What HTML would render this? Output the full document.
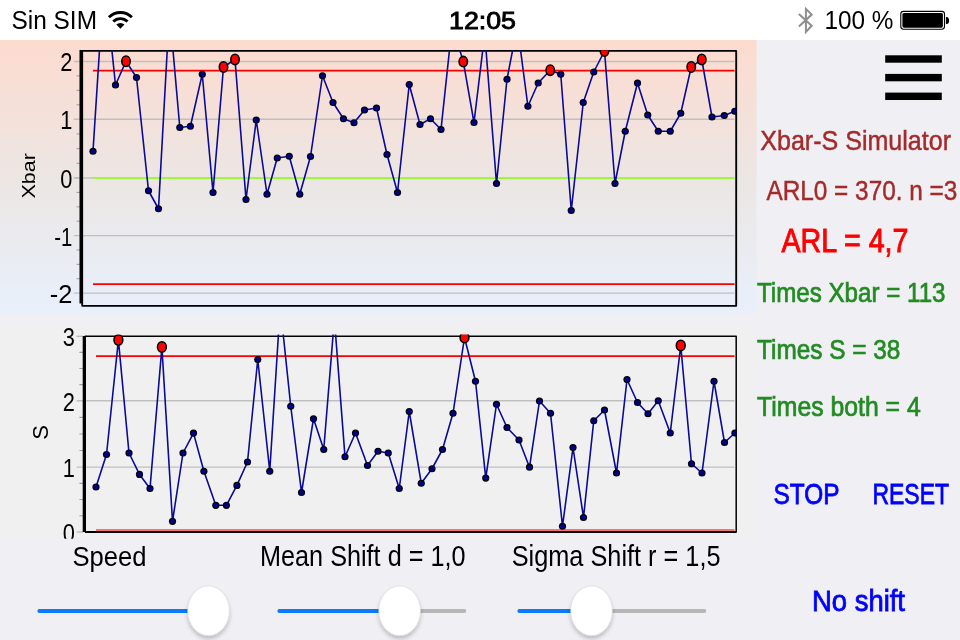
<!DOCTYPE html><html><head><meta charset="utf-8"><title>Xbar-S Simulator</title><style>
html,body{margin:0;padding:0;width:960px;height:640px;overflow:hidden;background:#efeff4;}
svg{position:absolute;left:0;top:0;display:block}
text{font-family:"Liberation Sans",Arial,sans-serif;}
</style></head><body>
<svg width="960" height="640" viewBox="0 0 960 640">
<defs>
<linearGradient id="tg" x1="0" y1="0" x2="0" y2="1"><stop offset="0" stop-color="#fddbcf"/><stop offset="0.5" stop-color="#ece6e3"/><stop offset="1" stop-color="#e8f0fc"/></linearGradient>
<linearGradient id="tgu" gradientUnits="userSpaceOnUse" x1="0" y1="40" x2="0" y2="313.75"><stop offset="0" stop-color="#fddbcf"/><stop offset="0.5" stop-color="#ece6e3"/><stop offset="1" stop-color="#e8f0fc"/></linearGradient>
<clipPath id="ctop"><rect x="82" y="50.3" width="654.5" height="255"/></clipPath>
<clipPath id="cs"><rect x="85" y="334.4" width="651.5" height="197"/></clipPath>
<clipPath id="csview"><rect x="0" y="327" width="757" height="211.75"/></clipPath>
<filter id="sh" x="-30%" y="-30%" width="160%" height="170%"><feGaussianBlur in="SourceAlpha" stdDeviation="2"/><feOffset dy="3"/><feComponentTransfer><feFuncA type="linear" slope="0.22"/></feComponentTransfer><feMerge><feMergeNode/><feMergeNode in="SourceGraphic"/></feMerge></filter>
</defs>
<rect x="0" y="0" width="960" height="40" fill="#ffffff"/>
<rect x="0" y="40" width="756.5" height="273.75" fill="url(#tg)"/>
<rect x="0" y="327" width="756.5" height="211.75" fill="#f0f0f0"/>
<path d="M108.94,17.24 A16.2,16.2 0 0 1 131.86,17.24" stroke="#000" stroke-width="2.9" fill="none"/>
<path d="M113.26,21.56 A10.1,10.1 0 0 1 127.54,21.56" stroke="#000" stroke-width="2.9" fill="none"/>
<path d="M120.4,28.7 L116.30,24.60 A5.8,5.8 0 0 1 124.50,24.60 Z" fill="#000"/>
<path d="M798.9,13.9 L811.7,25.8 L805.9,31.9 L805.9,8.8 L811.7,14.6 L798.9,26.4" stroke="#8e8e8e" stroke-width="2.0" fill="none" stroke-linejoin="miter"/>
<rect x="900.8" y="11.4" width="43.7" height="17.8" rx="2.6" fill="none" stroke="#000" stroke-width="1.1"/>
<rect x="902.4" y="12.9" width="40.5" height="14.8" rx="1.6" fill="#000"/>
<path d="M945.9,16.9 L946.5,16.9 A2.6,3.6 0 0 1 946.5,24.1 L945.9,24.1 Z" fill="#000"/>
<line x1="73.8" y1="61.5" x2="734.5" y2="61.5" stroke="#bfbfbf" stroke-width="1.45"/>
<line x1="73.8" y1="119.2" x2="734.5" y2="119.2" stroke="#bfbfbf" stroke-width="1.45"/>
<line x1="73.8" y1="178.0" x2="80" y2="178.0" stroke="#a8a8a8" stroke-width="1.2"/>
<line x1="83" y1="178.0" x2="93" y2="178.0" stroke="#bfbfbf" stroke-width="1.45"/>
<line x1="73.8" y1="235.6" x2="734.5" y2="235.6" stroke="#bfbfbf" stroke-width="1.45"/>
<line x1="73.8" y1="293.1" x2="734.5" y2="293.1" stroke="#bfbfbf" stroke-width="1.45"/>
<line x1="76.6" y1="75.92" x2="80" y2="75.92" stroke="#a0a0a0" stroke-width="1.1"/>
<line x1="76.6" y1="90.35" x2="80" y2="90.35" stroke="#a0a0a0" stroke-width="1.1"/>
<line x1="76.6" y1="104.78" x2="80" y2="104.78" stroke="#a0a0a0" stroke-width="1.1"/>
<line x1="76.6" y1="133.90" x2="80" y2="133.90" stroke="#a0a0a0" stroke-width="1.1"/>
<line x1="76.6" y1="148.60" x2="80" y2="148.60" stroke="#a0a0a0" stroke-width="1.1"/>
<line x1="76.6" y1="163.30" x2="80" y2="163.30" stroke="#a0a0a0" stroke-width="1.1"/>
<line x1="76.6" y1="192.40" x2="80" y2="192.40" stroke="#a0a0a0" stroke-width="1.1"/>
<line x1="76.6" y1="206.80" x2="80" y2="206.80" stroke="#a0a0a0" stroke-width="1.1"/>
<line x1="76.6" y1="221.20" x2="80" y2="221.20" stroke="#a0a0a0" stroke-width="1.1"/>
<line x1="76.6" y1="249.97" x2="80" y2="249.97" stroke="#a0a0a0" stroke-width="1.1"/>
<line x1="76.6" y1="264.35" x2="80" y2="264.35" stroke="#a0a0a0" stroke-width="1.1"/>
<line x1="76.6" y1="278.73" x2="80" y2="278.73" stroke="#a0a0a0" stroke-width="1.1"/>
<line x1="93" y1="70.7" x2="734.5" y2="70.7" stroke="#ff0000" stroke-width="1.8"/>
<line x1="93" y1="284.2" x2="734.5" y2="284.2" stroke="#ff0000" stroke-width="1.8"/>
<line x1="93" y1="178" x2="734.5" y2="178" stroke="#80ff00" stroke-width="1.7"/>
<rect x="82.2" y="50.9" width="654" height="254.9" fill="none" stroke="#000" stroke-width="1.85" stroke-linejoin="round"/>
<rect x="79.5" y="50" width="3.5" height="253.5" fill="#000"/>
<g clip-path="url(#ctop)">
<polyline points="93.00,151.25 104.22,-23.70 115.50,85.00 126.00,61.25 136.50,77.50 148.50,190.75 158.50,208.75 169.45,10.00 179.80,127.50 190.40,126.25 202.25,74.25 213.00,192.50 223.50,67.00 235.00,59.50 246.00,199.50 256.25,120.00 267.00,194.25 277.25,158.00 289.25,156.25 299.75,194.25 310.50,156.50 322.50,75.75 333.00,102.50 343.50,118.75 354.00,122.75 364.50,110.00 376.50,108.00 387.00,154.50 397.50,192.50 409.25,84.50 420.00,124.50 430.50,118.75 441.00,129.50 452.13,25.40 463.30,61.60 474.00,122.50 484.74,33.60 496.50,183.50 507.00,79.25 517.36,25.70 527.90,106.25 538.20,83.00 550.25,70.25 560.75,74.25 571.25,210.50 583.25,102.50 593.75,72.00 604.50,51.00 615.00,183.50 625.25,131.25 637.50,83.00 647.75,115.00 658.25,131.25 670.25,131.25 680.75,113.25 691.25,67.00 701.75,59.50 712.00,117.00 724.25,115.50 734.80,111.25" fill="none" stroke="#0a0a96" stroke-width="1.6" stroke-linejoin="round"/>
<circle cx="93.00" cy="151.25" r="3.6" fill="#000"/><path d="M93.00,148.25 L96.00,151.25 L93.00,154.25 L90.00,151.25 Z" fill="#00008c"/>
<circle cx="115.50" cy="85.00" r="3.6" fill="#000"/><path d="M115.50,82.00 L118.50,85.00 L115.50,88.00 L112.50,85.00 Z" fill="#00008c"/>
<ellipse cx="126.00" cy="61.25" rx="4.2" ry="5.2" fill="#ff0000" stroke="#000" stroke-width="1.6"/>
<circle cx="136.50" cy="77.50" r="3.6" fill="#000"/><path d="M136.50,74.50 L139.50,77.50 L136.50,80.50 L133.50,77.50 Z" fill="#00008c"/>
<circle cx="148.50" cy="190.75" r="3.6" fill="#000"/><path d="M148.50,187.75 L151.50,190.75 L148.50,193.75 L145.50,190.75 Z" fill="#00008c"/>
<circle cx="158.50" cy="208.75" r="3.6" fill="#000"/><path d="M158.50,205.75 L161.50,208.75 L158.50,211.75 L155.50,208.75 Z" fill="#00008c"/>
<circle cx="179.80" cy="127.50" r="3.6" fill="#000"/><path d="M179.80,124.50 L182.80,127.50 L179.80,130.50 L176.80,127.50 Z" fill="#00008c"/>
<circle cx="190.40" cy="126.25" r="3.6" fill="#000"/><path d="M190.40,123.25 L193.40,126.25 L190.40,129.25 L187.40,126.25 Z" fill="#00008c"/>
<circle cx="202.25" cy="74.25" r="3.6" fill="#000"/><path d="M202.25,71.25 L205.25,74.25 L202.25,77.25 L199.25,74.25 Z" fill="#00008c"/>
<circle cx="213.00" cy="192.50" r="3.6" fill="#000"/><path d="M213.00,189.50 L216.00,192.50 L213.00,195.50 L210.00,192.50 Z" fill="#00008c"/>
<ellipse cx="223.50" cy="67" rx="4.2" ry="5.2" fill="#ff0000" stroke="#000" stroke-width="1.6"/>
<ellipse cx="235.00" cy="59.5" rx="4.2" ry="5.2" fill="#ff0000" stroke="#000" stroke-width="1.6"/>
<circle cx="246.00" cy="199.50" r="3.6" fill="#000"/><path d="M246.00,196.50 L249.00,199.50 L246.00,202.50 L243.00,199.50 Z" fill="#00008c"/>
<circle cx="256.25" cy="120.00" r="3.6" fill="#000"/><path d="M256.25,117.00 L259.25,120.00 L256.25,123.00 L253.25,120.00 Z" fill="#00008c"/>
<circle cx="267.00" cy="194.25" r="3.6" fill="#000"/><path d="M267.00,191.25 L270.00,194.25 L267.00,197.25 L264.00,194.25 Z" fill="#00008c"/>
<circle cx="277.25" cy="158.00" r="3.6" fill="#000"/><path d="M277.25,155.00 L280.25,158.00 L277.25,161.00 L274.25,158.00 Z" fill="#00008c"/>
<circle cx="289.25" cy="156.25" r="3.6" fill="#000"/><path d="M289.25,153.25 L292.25,156.25 L289.25,159.25 L286.25,156.25 Z" fill="#00008c"/>
<circle cx="299.75" cy="194.25" r="3.6" fill="#000"/><path d="M299.75,191.25 L302.75,194.25 L299.75,197.25 L296.75,194.25 Z" fill="#00008c"/>
<circle cx="310.50" cy="156.50" r="3.6" fill="#000"/><path d="M310.50,153.50 L313.50,156.50 L310.50,159.50 L307.50,156.50 Z" fill="#00008c"/>
<circle cx="322.50" cy="75.75" r="3.6" fill="#000"/><path d="M322.50,72.75 L325.50,75.75 L322.50,78.75 L319.50,75.75 Z" fill="#00008c"/>
<circle cx="333.00" cy="102.50" r="3.6" fill="#000"/><path d="M333.00,99.50 L336.00,102.50 L333.00,105.50 L330.00,102.50 Z" fill="#00008c"/>
<circle cx="343.50" cy="118.75" r="3.6" fill="#000"/><path d="M343.50,115.75 L346.50,118.75 L343.50,121.75 L340.50,118.75 Z" fill="#00008c"/>
<circle cx="354.00" cy="122.75" r="3.6" fill="#000"/><path d="M354.00,119.75 L357.00,122.75 L354.00,125.75 L351.00,122.75 Z" fill="#00008c"/>
<circle cx="364.50" cy="110.00" r="3.6" fill="#000"/><path d="M364.50,107.00 L367.50,110.00 L364.50,113.00 L361.50,110.00 Z" fill="#00008c"/>
<circle cx="376.50" cy="108.00" r="3.6" fill="#000"/><path d="M376.50,105.00 L379.50,108.00 L376.50,111.00 L373.50,108.00 Z" fill="#00008c"/>
<circle cx="387.00" cy="154.50" r="3.6" fill="#000"/><path d="M387.00,151.50 L390.00,154.50 L387.00,157.50 L384.00,154.50 Z" fill="#00008c"/>
<circle cx="397.50" cy="192.50" r="3.6" fill="#000"/><path d="M397.50,189.50 L400.50,192.50 L397.50,195.50 L394.50,192.50 Z" fill="#00008c"/>
<circle cx="409.25" cy="84.50" r="3.6" fill="#000"/><path d="M409.25,81.50 L412.25,84.50 L409.25,87.50 L406.25,84.50 Z" fill="#00008c"/>
<circle cx="420.00" cy="124.50" r="3.6" fill="#000"/><path d="M420.00,121.50 L423.00,124.50 L420.00,127.50 L417.00,124.50 Z" fill="#00008c"/>
<circle cx="430.50" cy="118.75" r="3.6" fill="#000"/><path d="M430.50,115.75 L433.50,118.75 L430.50,121.75 L427.50,118.75 Z" fill="#00008c"/>
<circle cx="441.00" cy="129.50" r="3.6" fill="#000"/><path d="M441.00,126.50 L444.00,129.50 L441.00,132.50 L438.00,129.50 Z" fill="#00008c"/>
<ellipse cx="463.30" cy="61.6" rx="4.2" ry="5.2" fill="#ff0000" stroke="#000" stroke-width="1.6"/>
<circle cx="474.00" cy="122.50" r="3.6" fill="#000"/><path d="M474.00,119.50 L477.00,122.50 L474.00,125.50 L471.00,122.50 Z" fill="#00008c"/>
<circle cx="496.50" cy="183.50" r="3.6" fill="#000"/><path d="M496.50,180.50 L499.50,183.50 L496.50,186.50 L493.50,183.50 Z" fill="#00008c"/>
<circle cx="507.00" cy="79.25" r="3.6" fill="#000"/><path d="M507.00,76.25 L510.00,79.25 L507.00,82.25 L504.00,79.25 Z" fill="#00008c"/>
<circle cx="527.90" cy="106.25" r="3.6" fill="#000"/><path d="M527.90,103.25 L530.90,106.25 L527.90,109.25 L524.90,106.25 Z" fill="#00008c"/>
<circle cx="538.20" cy="83.00" r="3.6" fill="#000"/><path d="M538.20,80.00 L541.20,83.00 L538.20,86.00 L535.20,83.00 Z" fill="#00008c"/>
<ellipse cx="550.25" cy="70.25" rx="4.2" ry="5.2" fill="#ff0000" stroke="#000" stroke-width="1.6"/>
<circle cx="560.75" cy="74.25" r="3.6" fill="#000"/><path d="M560.75,71.25 L563.75,74.25 L560.75,77.25 L557.75,74.25 Z" fill="#00008c"/>
<circle cx="571.25" cy="210.50" r="3.6" fill="#000"/><path d="M571.25,207.50 L574.25,210.50 L571.25,213.50 L568.25,210.50 Z" fill="#00008c"/>
<circle cx="583.25" cy="102.50" r="3.6" fill="#000"/><path d="M583.25,99.50 L586.25,102.50 L583.25,105.50 L580.25,102.50 Z" fill="#00008c"/>
<circle cx="593.75" cy="72.00" r="3.6" fill="#000"/><path d="M593.75,69.00 L596.75,72.00 L593.75,75.00 L590.75,72.00 Z" fill="#00008c"/>
<ellipse cx="604.50" cy="51" rx="4.2" ry="5.2" fill="#ff0000" stroke="#000" stroke-width="1.6"/>
<circle cx="615.00" cy="183.50" r="3.6" fill="#000"/><path d="M615.00,180.50 L618.00,183.50 L615.00,186.50 L612.00,183.50 Z" fill="#00008c"/>
<circle cx="625.25" cy="131.25" r="3.6" fill="#000"/><path d="M625.25,128.25 L628.25,131.25 L625.25,134.25 L622.25,131.25 Z" fill="#00008c"/>
<circle cx="637.50" cy="83.00" r="3.6" fill="#000"/><path d="M637.50,80.00 L640.50,83.00 L637.50,86.00 L634.50,83.00 Z" fill="#00008c"/>
<circle cx="647.75" cy="115.00" r="3.6" fill="#000"/><path d="M647.75,112.00 L650.75,115.00 L647.75,118.00 L644.75,115.00 Z" fill="#00008c"/>
<circle cx="658.25" cy="131.25" r="3.6" fill="#000"/><path d="M658.25,128.25 L661.25,131.25 L658.25,134.25 L655.25,131.25 Z" fill="#00008c"/>
<circle cx="670.25" cy="131.25" r="3.6" fill="#000"/><path d="M670.25,128.25 L673.25,131.25 L670.25,134.25 L667.25,131.25 Z" fill="#00008c"/>
<circle cx="680.75" cy="113.25" r="3.6" fill="#000"/><path d="M680.75,110.25 L683.75,113.25 L680.75,116.25 L677.75,113.25 Z" fill="#00008c"/>
<ellipse cx="691.25" cy="67" rx="4.2" ry="5.2" fill="#ff0000" stroke="#000" stroke-width="1.6"/>
<ellipse cx="701.75" cy="59.5" rx="4.2" ry="5.2" fill="#ff0000" stroke="#000" stroke-width="1.6"/>
<circle cx="712.00" cy="117.00" r="3.6" fill="#000"/><path d="M712.00,114.00 L715.00,117.00 L712.00,120.00 L709.00,117.00 Z" fill="#00008c"/>
<circle cx="724.25" cy="115.50" r="3.6" fill="#000"/><path d="M724.25,112.50 L727.25,115.50 L724.25,118.50 L721.25,115.50 Z" fill="#00008c"/>
<circle cx="734.80" cy="111.25" r="3.6" fill="#000"/><path d="M734.80,108.25 L737.80,111.25 L734.80,114.25 L731.80,111.25 Z" fill="#00008c"/>
</g>
<text transform="translate(72.3,71.4) scale(0.86,1)" font-size="25.4" text-anchor="end">2</text>
<text transform="translate(72.3,129.1) scale(0.86,1)" font-size="25.4" text-anchor="end">1</text>
<text transform="translate(72.3,187.9) scale(0.86,1)" font-size="25.4" text-anchor="end">0</text>
<text transform="translate(72.3,245.5) scale(0.8,1)" font-size="25.4" text-anchor="end">-1</text>
<text transform="translate(72.3,303.0) scale(1.0,1)" font-size="25.4" text-anchor="end">-2</text>
<text transform="translate(34.7,198.5) rotate(-90)" font-size="18.5" textLength="45.4" lengthAdjust="spacingAndGlyphs">Xbar</text>
<g clip-path="url(#csview)">
<line x1="76.6" y1="336.25" x2="83" y2="336.25" stroke="#a8a8a8" stroke-width="1.2"/>
<line x1="76.6" y1="400.75" x2="734.5" y2="400.75" stroke="#bfbfbf" stroke-width="1.45"/>
<line x1="76.6" y1="467.1" x2="734.5" y2="467.1" stroke="#bfbfbf" stroke-width="1.45"/>
<line x1="76.6" y1="532" x2="83" y2="532" stroke="#a8a8a8" stroke-width="1.2"/>
<line x1="79.4" y1="352.38" x2="83" y2="352.38" stroke="#a0a0a0" stroke-width="1.1"/>
<line x1="79.4" y1="368.50" x2="83" y2="368.50" stroke="#a0a0a0" stroke-width="1.1"/>
<line x1="79.4" y1="384.62" x2="83" y2="384.62" stroke="#a0a0a0" stroke-width="1.1"/>
<line x1="79.4" y1="417.34" x2="83" y2="417.34" stroke="#a0a0a0" stroke-width="1.1"/>
<line x1="79.4" y1="433.93" x2="83" y2="433.93" stroke="#a0a0a0" stroke-width="1.1"/>
<line x1="79.4" y1="450.51" x2="83" y2="450.51" stroke="#a0a0a0" stroke-width="1.1"/>
<line x1="79.4" y1="483.33" x2="83" y2="483.33" stroke="#a0a0a0" stroke-width="1.1"/>
<line x1="79.4" y1="499.55" x2="83" y2="499.55" stroke="#a0a0a0" stroke-width="1.1"/>
<line x1="79.4" y1="515.77" x2="83" y2="515.77" stroke="#a0a0a0" stroke-width="1.1"/>
<line x1="96" y1="356.1" x2="734.5" y2="356.1" stroke="#ff0000" stroke-width="1.8"/>
<line x1="96" y1="529.9" x2="734.5" y2="529.9" stroke="#ff7070" stroke-width="2"/>
<rect x="85.2" y="336.25" width="651" height="195.5" fill="none" stroke="#000" stroke-width="1.5" stroke-linejoin="round"/>
<rect x="82.7" y="336" width="3.3" height="196" fill="#000"/>
<line x1="85" y1="532" x2="736.5" y2="532" stroke="#000" stroke-width="1.9"/>
<g clip-path="url(#cs)">
<polyline points="96.00,487.00 106.50,454.50 118.40,340.00 129.00,453.00 139.50,474.40 150.00,488.50 161.90,347.00 172.50,521.30 183.00,453.00 193.50,433.10 203.90,471.25 215.80,505.30 226.40,505.30 236.90,485.40 247.50,462.00 257.75,359.50 269.75,471.25 280.25,306.00 290.75,406.25 301.50,492.50 313.50,418.75 323.75,449.50 334.38,318.75 345.00,456.75 355.50,433.00 367.50,465.50 378.00,451.25 388.25,453.00 399.25,488.50 409.25,411.50 421.25,483.25 432.00,468.75 442.50,449.50 453.00,413.25 464.50,337.50 475.50,381.25 485.75,478.10 496.50,404.25 507.00,427.50 519.00,440.00 529.50,467.20 539.50,401.00 550.50,413.25 562.50,526.25 573.00,447.50 583.50,517.50 593.75,420.75 604.50,410.00 616.50,473.00 627.00,379.50 637.50,402.50 648.00,413.75 658.25,400.75 670.25,433.00 680.75,345.50 691.50,463.75 702.00,473.00 714.00,381.25 724.50,442.50 734.91,433.00" fill="none" stroke="#0a0a96" stroke-width="1.6" stroke-linejoin="round"/>
<circle cx="96.00" cy="487.00" r="3.6" fill="#000"/><path d="M96.00,484.00 L99.00,487.00 L96.00,490.00 L93.00,487.00 Z" fill="#00008c"/>
<circle cx="106.50" cy="454.50" r="3.6" fill="#000"/><path d="M106.50,451.50 L109.50,454.50 L106.50,457.50 L103.50,454.50 Z" fill="#00008c"/>
<ellipse cx="118.40" cy="340" rx="4.4" ry="5.2" fill="#ff0000" stroke="#000" stroke-width="1.6"/>
<circle cx="129.00" cy="453.00" r="3.6" fill="#000"/><path d="M129.00,450.00 L132.00,453.00 L129.00,456.00 L126.00,453.00 Z" fill="#00008c"/>
<circle cx="139.50" cy="474.40" r="3.6" fill="#000"/><path d="M139.50,471.40 L142.50,474.40 L139.50,477.40 L136.50,474.40 Z" fill="#00008c"/>
<circle cx="150.00" cy="488.50" r="3.6" fill="#000"/><path d="M150.00,485.50 L153.00,488.50 L150.00,491.50 L147.00,488.50 Z" fill="#00008c"/>
<ellipse cx="161.90" cy="347" rx="4.4" ry="5.2" fill="#ff0000" stroke="#000" stroke-width="1.6"/>
<circle cx="172.50" cy="521.30" r="3.6" fill="#000"/><path d="M172.50,518.30 L175.50,521.30 L172.50,524.30 L169.50,521.30 Z" fill="#00008c"/>
<circle cx="183.00" cy="453.00" r="3.6" fill="#000"/><path d="M183.00,450.00 L186.00,453.00 L183.00,456.00 L180.00,453.00 Z" fill="#00008c"/>
<circle cx="193.50" cy="433.10" r="3.6" fill="#000"/><path d="M193.50,430.10 L196.50,433.10 L193.50,436.10 L190.50,433.10 Z" fill="#00008c"/>
<circle cx="203.90" cy="471.25" r="3.6" fill="#000"/><path d="M203.90,468.25 L206.90,471.25 L203.90,474.25 L200.90,471.25 Z" fill="#00008c"/>
<circle cx="215.80" cy="505.30" r="3.6" fill="#000"/><path d="M215.80,502.30 L218.80,505.30 L215.80,508.30 L212.80,505.30 Z" fill="#00008c"/>
<circle cx="226.40" cy="505.30" r="3.6" fill="#000"/><path d="M226.40,502.30 L229.40,505.30 L226.40,508.30 L223.40,505.30 Z" fill="#00008c"/>
<circle cx="236.90" cy="485.40" r="3.6" fill="#000"/><path d="M236.90,482.40 L239.90,485.40 L236.90,488.40 L233.90,485.40 Z" fill="#00008c"/>
<circle cx="247.50" cy="462.00" r="3.6" fill="#000"/><path d="M247.50,459.00 L250.50,462.00 L247.50,465.00 L244.50,462.00 Z" fill="#00008c"/>
<circle cx="257.75" cy="359.50" r="3.6" fill="#000"/><path d="M257.75,356.50 L260.75,359.50 L257.75,362.50 L254.75,359.50 Z" fill="#00008c"/>
<circle cx="269.75" cy="471.25" r="3.6" fill="#000"/><path d="M269.75,468.25 L272.75,471.25 L269.75,474.25 L266.75,471.25 Z" fill="#00008c"/>
<circle cx="290.75" cy="406.25" r="3.6" fill="#000"/><path d="M290.75,403.25 L293.75,406.25 L290.75,409.25 L287.75,406.25 Z" fill="#00008c"/>
<circle cx="301.50" cy="492.50" r="3.6" fill="#000"/><path d="M301.50,489.50 L304.50,492.50 L301.50,495.50 L298.50,492.50 Z" fill="#00008c"/>
<circle cx="313.50" cy="418.75" r="3.6" fill="#000"/><path d="M313.50,415.75 L316.50,418.75 L313.50,421.75 L310.50,418.75 Z" fill="#00008c"/>
<circle cx="323.75" cy="449.50" r="3.6" fill="#000"/><path d="M323.75,446.50 L326.75,449.50 L323.75,452.50 L320.75,449.50 Z" fill="#00008c"/>
<circle cx="345.00" cy="456.75" r="3.6" fill="#000"/><path d="M345.00,453.75 L348.00,456.75 L345.00,459.75 L342.00,456.75 Z" fill="#00008c"/>
<circle cx="355.50" cy="433.00" r="3.6" fill="#000"/><path d="M355.50,430.00 L358.50,433.00 L355.50,436.00 L352.50,433.00 Z" fill="#00008c"/>
<circle cx="367.50" cy="465.50" r="3.6" fill="#000"/><path d="M367.50,462.50 L370.50,465.50 L367.50,468.50 L364.50,465.50 Z" fill="#00008c"/>
<circle cx="378.00" cy="451.25" r="3.6" fill="#000"/><path d="M378.00,448.25 L381.00,451.25 L378.00,454.25 L375.00,451.25 Z" fill="#00008c"/>
<circle cx="388.25" cy="453.00" r="3.6" fill="#000"/><path d="M388.25,450.00 L391.25,453.00 L388.25,456.00 L385.25,453.00 Z" fill="#00008c"/>
<circle cx="399.25" cy="488.50" r="3.6" fill="#000"/><path d="M399.25,485.50 L402.25,488.50 L399.25,491.50 L396.25,488.50 Z" fill="#00008c"/>
<circle cx="409.25" cy="411.50" r="3.6" fill="#000"/><path d="M409.25,408.50 L412.25,411.50 L409.25,414.50 L406.25,411.50 Z" fill="#00008c"/>
<circle cx="421.25" cy="483.25" r="3.6" fill="#000"/><path d="M421.25,480.25 L424.25,483.25 L421.25,486.25 L418.25,483.25 Z" fill="#00008c"/>
<circle cx="432.00" cy="468.75" r="3.6" fill="#000"/><path d="M432.00,465.75 L435.00,468.75 L432.00,471.75 L429.00,468.75 Z" fill="#00008c"/>
<circle cx="442.50" cy="449.50" r="3.6" fill="#000"/><path d="M442.50,446.50 L445.50,449.50 L442.50,452.50 L439.50,449.50 Z" fill="#00008c"/>
<circle cx="453.00" cy="413.25" r="3.6" fill="#000"/><path d="M453.00,410.25 L456.00,413.25 L453.00,416.25 L450.00,413.25 Z" fill="#00008c"/>
<ellipse cx="464.50" cy="337.5" rx="4.4" ry="5.2" fill="#ff0000" stroke="#000" stroke-width="1.6"/>
<circle cx="475.50" cy="381.25" r="3.6" fill="#000"/><path d="M475.50,378.25 L478.50,381.25 L475.50,384.25 L472.50,381.25 Z" fill="#00008c"/>
<circle cx="485.75" cy="478.10" r="3.6" fill="#000"/><path d="M485.75,475.10 L488.75,478.10 L485.75,481.10 L482.75,478.10 Z" fill="#00008c"/>
<circle cx="496.50" cy="404.25" r="3.6" fill="#000"/><path d="M496.50,401.25 L499.50,404.25 L496.50,407.25 L493.50,404.25 Z" fill="#00008c"/>
<circle cx="507.00" cy="427.50" r="3.6" fill="#000"/><path d="M507.00,424.50 L510.00,427.50 L507.00,430.50 L504.00,427.50 Z" fill="#00008c"/>
<circle cx="519.00" cy="440.00" r="3.6" fill="#000"/><path d="M519.00,437.00 L522.00,440.00 L519.00,443.00 L516.00,440.00 Z" fill="#00008c"/>
<circle cx="529.50" cy="467.20" r="3.6" fill="#000"/><path d="M529.50,464.20 L532.50,467.20 L529.50,470.20 L526.50,467.20 Z" fill="#00008c"/>
<circle cx="539.50" cy="401.00" r="3.6" fill="#000"/><path d="M539.50,398.00 L542.50,401.00 L539.50,404.00 L536.50,401.00 Z" fill="#00008c"/>
<circle cx="550.50" cy="413.25" r="3.6" fill="#000"/><path d="M550.50,410.25 L553.50,413.25 L550.50,416.25 L547.50,413.25 Z" fill="#00008c"/>
<circle cx="562.50" cy="526.25" r="3.6" fill="#000"/><path d="M562.50,523.25 L565.50,526.25 L562.50,529.25 L559.50,526.25 Z" fill="#00008c"/>
<circle cx="573.00" cy="447.50" r="3.6" fill="#000"/><path d="M573.00,444.50 L576.00,447.50 L573.00,450.50 L570.00,447.50 Z" fill="#00008c"/>
<circle cx="583.50" cy="517.50" r="3.6" fill="#000"/><path d="M583.50,514.50 L586.50,517.50 L583.50,520.50 L580.50,517.50 Z" fill="#00008c"/>
<circle cx="593.75" cy="420.75" r="3.6" fill="#000"/><path d="M593.75,417.75 L596.75,420.75 L593.75,423.75 L590.75,420.75 Z" fill="#00008c"/>
<circle cx="604.50" cy="410.00" r="3.6" fill="#000"/><path d="M604.50,407.00 L607.50,410.00 L604.50,413.00 L601.50,410.00 Z" fill="#00008c"/>
<circle cx="616.50" cy="473.00" r="3.6" fill="#000"/><path d="M616.50,470.00 L619.50,473.00 L616.50,476.00 L613.50,473.00 Z" fill="#00008c"/>
<circle cx="627.00" cy="379.50" r="3.6" fill="#000"/><path d="M627.00,376.50 L630.00,379.50 L627.00,382.50 L624.00,379.50 Z" fill="#00008c"/>
<circle cx="637.50" cy="402.50" r="3.6" fill="#000"/><path d="M637.50,399.50 L640.50,402.50 L637.50,405.50 L634.50,402.50 Z" fill="#00008c"/>
<circle cx="648.00" cy="413.75" r="3.6" fill="#000"/><path d="M648.00,410.75 L651.00,413.75 L648.00,416.75 L645.00,413.75 Z" fill="#00008c"/>
<circle cx="658.25" cy="400.75" r="3.6" fill="#000"/><path d="M658.25,397.75 L661.25,400.75 L658.25,403.75 L655.25,400.75 Z" fill="#00008c"/>
<circle cx="670.25" cy="433.00" r="3.6" fill="#000"/><path d="M670.25,430.00 L673.25,433.00 L670.25,436.00 L667.25,433.00 Z" fill="#00008c"/>
<ellipse cx="680.75" cy="345.5" rx="4.4" ry="5.2" fill="#ff0000" stroke="#000" stroke-width="1.6"/>
<circle cx="691.50" cy="463.75" r="3.6" fill="#000"/><path d="M691.50,460.75 L694.50,463.75 L691.50,466.75 L688.50,463.75 Z" fill="#00008c"/>
<circle cx="702.00" cy="473.00" r="3.6" fill="#000"/><path d="M702.00,470.00 L705.00,473.00 L702.00,476.00 L699.00,473.00 Z" fill="#00008c"/>
<circle cx="714.00" cy="381.25" r="3.6" fill="#000"/><path d="M714.00,378.25 L717.00,381.25 L714.00,384.25 L711.00,381.25 Z" fill="#00008c"/>
<circle cx="724.50" cy="442.50" r="3.6" fill="#000"/><path d="M724.50,439.50 L727.50,442.50 L724.50,445.50 L721.50,442.50 Z" fill="#00008c"/>
<circle cx="734.91" cy="433.00" r="3.6" fill="#000"/><path d="M734.91,430.00 L737.91,433.00 L734.91,436.00 L731.91,433.00 Z" fill="#00008c"/>
</g>
<text transform="translate(74.9,346.1) scale(0.86,1)" font-size="25.4" text-anchor="end">3</text>
<text transform="translate(74.9,410.6) scale(0.86,1)" font-size="25.4" text-anchor="end">2</text>
<text transform="translate(74.9,477.0) scale(0.86,1)" font-size="25.4" text-anchor="end">1</text>
<text transform="translate(74.9,541.9) scale(0.86,1)" font-size="25.4" text-anchor="end">0</text>
<text transform="translate(48.1,439.7) rotate(-90)" font-size="22">S</text>
</g>
<rect x="885.2" y="55.3" width="56.6" height="7.4" fill="#000"/>
<rect x="885.2" y="73.9" width="56.6" height="7.4" fill="#000"/>
<rect x="885.2" y="92.6" width="56.6" height="7.4" fill="#000"/>
<line x1="39.5" y1="611" x2="224.5" y2="611" stroke="#b6b6b6" stroke-width="4" stroke-linecap="round"/>
<line x1="39.5" y1="611" x2="208.5" y2="611" stroke="#0a7aff" stroke-width="4" stroke-linecap="round"/>
<ellipse cx="208.5" cy="610.8" rx="20.8" ry="24.8" fill="#ffffff" stroke="#d8d8d8" stroke-width="0.6" filter="url(#sh)"/>
<line x1="279.5" y1="611" x2="464.3" y2="611" stroke="#b6b6b6" stroke-width="4" stroke-linecap="round"/>
<line x1="279.5" y1="611" x2="399.6" y2="611" stroke="#0a7aff" stroke-width="4" stroke-linecap="round"/>
<ellipse cx="399.6" cy="610.8" rx="20.8" ry="24.8" fill="#ffffff" stroke="#d8d8d8" stroke-width="0.6" filter="url(#sh)"/>
<line x1="519.5" y1="611" x2="704.3" y2="611" stroke="#b6b6b6" stroke-width="4" stroke-linecap="round"/>
<line x1="519.5" y1="611" x2="591.5" y2="611" stroke="#0a7aff" stroke-width="4" stroke-linecap="round"/>
<ellipse cx="591.5" cy="610.8" rx="20.8" ry="24.8" fill="#ffffff" stroke="#d8d8d8" stroke-width="0.6" filter="url(#sh)"/>
<text x="11.50" y="29.1" font-size="25.2" fill="#000000" textLength="85.50" lengthAdjust="spacingAndGlyphs">Sin SIM</text>
<text x="449.00" y="29.0" font-size="24.8" fill="#000000" stroke="#000000" stroke-width="0.9" textLength="67.00" lengthAdjust="spacingAndGlyphs">12:05</text>
<text x="824.50" y="29.4" font-size="25.2" fill="#000000" textLength="69.00" lengthAdjust="spacingAndGlyphs">100 %</text>
<text x="760.25" y="149.5" font-size="27.1" fill="#a52a2a" stroke="#a52a2a" stroke-width="0.45" textLength="190.75" lengthAdjust="spacingAndGlyphs">Xbar-S Simulator</text>
<text x="766.50" y="199.9" font-size="27.1" fill="#a52a2a" stroke="#a52a2a" stroke-width="0.45" textLength="190.75" lengthAdjust="spacingAndGlyphs">ARL0 = 370. n =3</text>
<text x="781.50" y="251.5" font-size="32.5" fill="#ff0000" stroke="#ff0000" stroke-width="0.85" textLength="127.00" lengthAdjust="spacingAndGlyphs">ARL = 4,7</text>
<text x="757.00" y="301.9" font-size="26.8" fill="#228b22" stroke="#228b22" stroke-width="0.7" textLength="188.50" lengthAdjust="spacingAndGlyphs">Times Xbar = 113</text>
<text x="757.00" y="359.2" font-size="26.8" fill="#228b22" stroke="#228b22" stroke-width="0.7" textLength="143.25" lengthAdjust="spacingAndGlyphs">Times S = 38</text>
<text x="757.00" y="416.3" font-size="26.8" fill="#228b22" stroke="#228b22" stroke-width="0.7" textLength="163.75" lengthAdjust="spacingAndGlyphs">Times both = 4</text>
<text x="773.50" y="503.5" font-size="28.8" fill="#0000ff" stroke="#0000ff" stroke-width="0.8" textLength="66.00" lengthAdjust="spacingAndGlyphs">STOP</text>
<text x="872.50" y="503.5" font-size="28.8" fill="#0000ff" stroke="#0000ff" stroke-width="0.8" textLength="76.50" lengthAdjust="spacingAndGlyphs">RESET</text>
<text x="812.00" y="611.0" font-size="28.8" fill="#0000ff" stroke="#0000ff" stroke-width="0.8" textLength="93.00" lengthAdjust="spacingAndGlyphs">No shift</text>
<text x="72.50" y="566.2" font-size="28.4" fill="#000000" textLength="74.00" lengthAdjust="spacingAndGlyphs">Speed</text>
<text x="260.00" y="566.1" font-size="28.8" fill="#000000" textLength="205.50" lengthAdjust="spacingAndGlyphs">Mean Shift d = 1,0</text>
<text x="511.75" y="566.1" font-size="28.8" fill="#000000" textLength="208.75" lengthAdjust="spacingAndGlyphs">Sigma Shift r = 1,5</text>
</svg></body></html>
